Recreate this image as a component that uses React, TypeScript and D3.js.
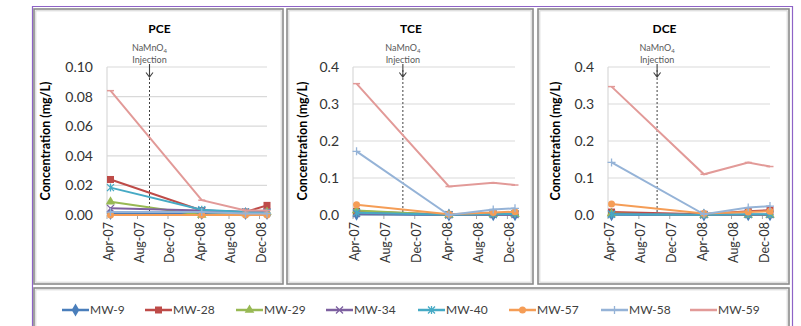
import React, { useEffect, useRef } from 'react';
import * as d3 from 'd3';

// sampling rounds and the date axis
const sampleDates = ['2007-04-15', '2008-04-14', '2008-10-06', '2008-12-31'];
const axisStart = '2007-04-01';
const axisEnd = '2008-12-31';
const tickDates = ['2007-04-01', '2007-08-01', '2007-12-01', '2008-04-01', '2008-08-01', '2008-12-01'];
const tickLabels = ['Apr-07', 'Aug-07', 'Dec-07', 'Apr-08', 'Aug-08', 'Dec-08'];

const wells = ['MW-9', 'MW-28', 'MW-29', 'MW-34', 'MW-40', 'MW-57', 'MW-58', 'MW-59'];
const wellColors = ['#4A7EBB', '#BE4B48', '#98B954', '#7D60A0', '#46AAC5', '#F59D56', '#95B3D7', '#E29A98'];
const wellMarkers = ['diamond', 'square', 'triangle', 'x', 'star', 'circle', 'plus', 'dash'];

// concentrations (mg/L), one row per well, one column per sampling round
const pce = [
  [0.001, 0.001, 0.001, 0.001],
  [0.024, 0.003, 0.002, 0.0065],
  [0.009, 0.0, 0.001, 0.002],
  [0.0045, 0.003, 0.002, 0.002],
  [0.0185, 0.0035, 0.002, 0.0015],
  [0.0, 0.0, 0.0, 0.0],
  [0.002, 0.002, 0.001, 0.001],
  [0.084, 0.01, 0.003, 0.003],
];
const tce = [
  [0.002, 0.0, 0.001, 0.001],
  [0.01, 0.001, 0.003, 0.004],
  [0.012, 0.0, 0.002, 0.002],
  [0.004, 0.001, 0.001, 0.001],
  [0.006, 0.001, 0.002, 0.003],
  [0.028, 0.002, 0.007, 0.009],
  [0.172, 0.0, 0.015, 0.018],
  [0.355, 0.077, 0.087, 0.081],
];
const dce = [
  [0.001, 0.0, 0.001, 0.001],
  [0.008, 0.002, 0.01, 0.013],
  [0.004, 0.0, 0.0, 0.0],
  [0.003, 0.001, 0.001, 0.001],
  [0.002, 0.001, 0.002, 0.002],
  [0.03, 0.004, 0.008, 0.01],
  [0.142, 0.002, 0.02, 0.024],
  [0.347, 0.11, 0.142, 0.131],
];

const panels = [
  { title: 'PCE', values: pce, yMax: 0.1, yStep: 0.02, fmt: '.2f', injection: '2007-09-18' },
  { title: 'TCE', values: tce, yMax: 0.4, yStep: 0.1, fmt: '.1f', injection: '2007-10-15' },
  { title: 'DCE', values: dce, yMax: 0.4, yStep: 0.1, fmt: '.1f', injection: '2007-10-12' },
];

// layout boxes: [left, top, right, bottom]
const frames = [
  { box: [34, 9, 283, 284], plot: [107, 67, 267, 215], yTitleX: 46 },
  { box: [287, 9, 533, 284], plot: [353, 67, 515, 215], yTitleX: 303 },
  { box: [538, 9, 789, 284], plot: [608, 67, 770, 215], yTitleX: 556 },
];
const legendTextX = [90, 173, 264, 354, 446, 537, 629, 718];

const font = 'Lato, "Open Sans", sans-serif';

function drawMarker(g, type, x, y, color) {
  const s = 3.5;
  if (type === 'diamond') {
    g.append('path').attr('d', d3.symbol(d3.symbolDiamond, 50)()).attr('transform', `translate(${x},${y})`).attr('fill', color);
  } else if (type === 'square') {
    g.append('rect').attr('x', x - s).attr('y', y - s).attr('width', 2 * s).attr('height', 2 * s).attr('fill', color);
  } else if (type === 'triangle') {
    g.append('path').attr('d', d3.symbol(d3.symbolTriangle, 40)()).attr('transform', `translate(${x},${y})`).attr('fill', color);
  } else if (type === 'circle') {
    g.append('circle').attr('cx', x).attr('cy', y).attr('r', s).attr('fill', color);
  } else if (type === 'x' || type === 'star') {
    g.append('path')
      .attr('d', `M${x - s},${y - s}L${x + s},${y + s}M${x - s},${y + s}L${x + s},${y - s}` + (type === 'star' ? `M${x},${y - s - 0.5}L${x},${y + s + 0.5}` : ''))
      .attr('stroke', color).attr('stroke-width', 1.3).attr('fill', 'none');
  } else if (type === 'plus') {
    g.append('path')
      .attr('d', `M${x - s - 0.5},${y}L${x + s + 0.5},${y}M${x},${y - s - 0.5}L${x},${y + s + 0.5}`)
      .attr('stroke', color).attr('stroke-width', 1.3).attr('fill', 'none');
  } else if (type === 'dash') {
    g.append('path').attr('d', `M${x - s},${y}L${x + s},${y}`).attr('stroke', color).attr('stroke-width', 1.5);
  }
}

const App = () => {
  const svgRef = useRef(null);

  useEffect(() => {
    const svg = d3.select(svgRef.current);
    svg.selectAll('*').remove();
    const parse = d3.timeParse('%Y-%m-%d');

    // outer purple frame
    svg.append('path')
      .attr('d', 'M32.5,326V6.5H792.5V326')
      .attr('fill', 'none').attr('stroke', '#8E63C6').attr('stroke-width', 1.2);

    const box = (b) => {
      svg.append('rect').attr('x', b[0]).attr('y', b[1]).attr('width', b[2] - b[0]).attr('height', b[3] - b[1])
        .attr('fill', '#fff').attr('stroke', '#8a8a8a').attr('stroke-width', 1.6);
      svg.append('rect').attr('x', b[0] + 1.8).attr('y', b[1] + 1.8).attr('width', b[2] - b[0] - 3.6).attr('height', b[3] - b[1] - 3.6)
        .attr('fill', 'none').attr('stroke', '#d4d4d4').attr('stroke-width', 1);
    };

    panels.forEach((p, i) => {
      const f = frames[i];
      box(f.box);
      const [x0, y0, x1, y1] = f.plot;
      const g = svg.append('g');

      const x = d3.scaleTime().domain([parse(axisStart), parse(axisEnd)]).range([x0, x1]);
      const y = d3.scaleLinear().domain([0, p.yMax]).range([y1, y0]);
      const yTicks = d3.range(0, p.yMax + p.yStep / 2, p.yStep);

      // gridlines
      g.selectAll('.grid').data(yTicks.slice(1)).enter().append('line')
        .attr('x1', x0).attr('x2', x1).attr('y1', (d) => y(d)).attr('y2', (d) => y(d))
        .attr('stroke', '#D9D9D9').attr('stroke-width', 1.2);
      // y axis line
      g.append('line').attr('x1', x0).attr('x2', x0).attr('y1', y0).attr('y2', y1)
        .attr('stroke', '#D9D9D9').attr('stroke-width', 1.2);
      // x axis line and ticks
      g.append('line').attr('x1', x0).attr('x2', x1).attr('y1', y1).attr('y2', y1)
        .attr('stroke', '#A6A6A6').attr('stroke-width', 1.2);
      g.selectAll('.xt').data(tickDates).enter().append('line')
        .attr('x1', (d) => x(parse(d))).attr('x2', (d) => x(parse(d)))
        .attr('y1', y1).attr('y2', y1 + 4).attr('stroke', '#A6A6A6');

      // y tick labels
      g.selectAll('.yl').data(yTicks).enter().append('text')
        .attr('x', x0 - 14).attr('y', (d) => y(d)).attr('dy', '0.35em')
        .attr('text-anchor', 'end').attr('font-size', 14).attr('font-family', font).attr('fill', '#333')
        .text((d) => d3.format(p.fmt)(d));

      // x tick labels
      g.selectAll('.xl').data(tickDates).enter().append('text')
        .attr('transform', (d) => `translate(${x(parse(d)) + 2},${y1 + 7}) rotate(-90)`)
        .attr('dy', '0.35em').attr('text-anchor', 'end')
        .attr('font-size', 12.5).attr('font-family', font).attr('fill', '#333')
        .text((d, k) => tickLabels[k]);

      // y title
      g.append('text')
        .attr('transform', `translate(${f.yTitleX},${(y0 + y1) / 2}) rotate(-90)`)
        .attr('dy', '0.35em').attr('text-anchor', 'middle')
        .attr('font-size', 12.5).attr('font-weight', 'bold').attr('font-family', font).attr('fill', '#000')
        .text('Concentration (mg/L)');

      // chart title
      g.append('text').attr('x', (f.box[0] + f.box[2]) / 2 + 1).attr('y', 33)
        .attr('text-anchor', 'middle').attr('font-size', 12).attr('font-weight', 'bold')
        .attr('font-family', font).attr('fill', '#000').text(p.title);

      // injection annotation
      const ix = x(parse(p.injection));
      g.append('line').attr('x1', ix).attr('x2', ix).attr('y1', 70).attr('y2', y1)
        .attr('stroke', '#404040').attr('stroke-width', 1).attr('stroke-dasharray', '2,2');
      g.append('path').attr('d', `M${ix},64V77M${ix - 3.5},72.5L${ix},77L${ix + 3.5},72.5`)
        .attr('fill', 'none').attr('stroke', '#404040').attr('stroke-width', 1.1);
      const t1 = g.append('text').attr('x', ix).attr('y', 51).attr('text-anchor', 'middle')
        .attr('font-size', 9).attr('font-family', font).attr('fill', '#595959');
      t1.append('tspan').text('NaMnO');
      t1.append('tspan').attr('font-size', 6).attr('dy', 2).text('4');
      g.append('text').attr('x', ix).attr('y', 63).attr('text-anchor', 'middle')
        .attr('font-size', 9).attr('font-family', font).attr('fill', '#595959').text('Injection');

      // series
      const line = d3.line().x((d) => x(d[0])).y((d) => y(d[1]));
      p.values.forEach((vals, s) => {
        const pts = vals.map((v, k) => [parse(sampleDates[k]), v]);
        g.append('path').attr('d', line(pts)).attr('fill', 'none')
          .attr('stroke', wellColors[s]).attr('stroke-width', 2);
        pts.forEach((d) => drawMarker(g, wellMarkers[s], x(d[0]), y(d[1]), wellColors[s]));
      });
    });

    // legend
    box([34, 288, 789, 340]);
    const lg = svg.append('g');
    wells.forEach((w, s) => {
      const tx = legendTextX[s];
      const ly = 310;
      lg.append('line').attr('x1', tx - 28).attr('x2', tx - 1).attr('y1', ly).attr('y2', ly)
        .attr('stroke', wellColors[s]).attr('stroke-width', 2.5);
      drawMarker(lg, wellMarkers[s], tx - 14.5, ly, wellColors[s]);
      lg.append('text').attr('x', tx).attr('y', ly).attr('dy', '0.35em')
        .attr('font-size', 12).attr('font-family', font).attr('fill', '#404040').text(w);
    });
  }, []);

  return (
    <svg ref={svgRef} width={801} height={326}
      style={{ position: 'absolute', left: 0, top: 0, background: '#fff', display: 'block' }} />
  );
};

export default App;
